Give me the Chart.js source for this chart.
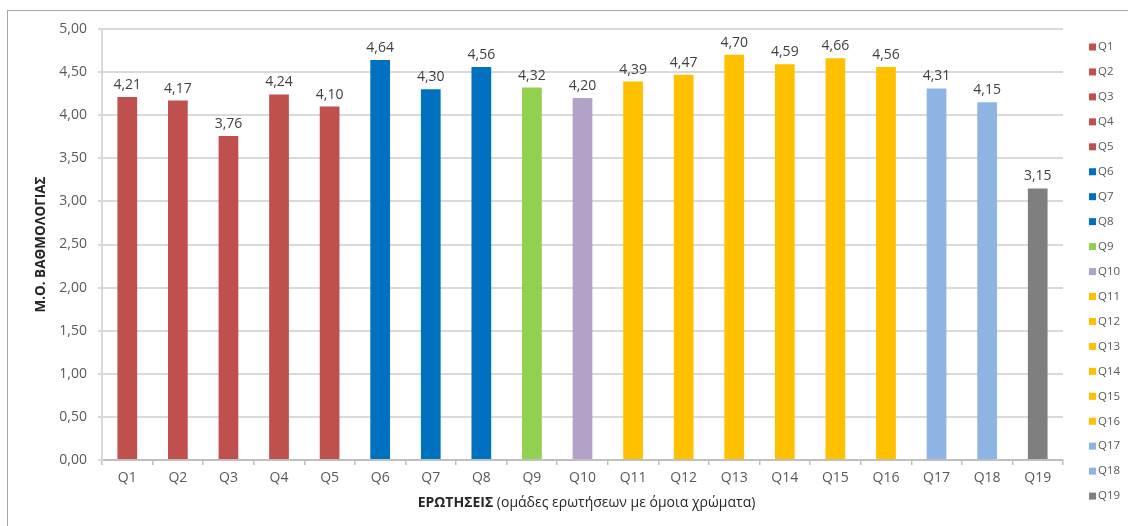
<!DOCTYPE html>
<html>
<head>
<meta charset="utf-8">
<script src="https://cdn.jsdelivr.net/npm/chart.js@4"></script>
<style>
  html, body { margin: 0; padding: 0; background: #fff; overflow: hidden; }
  #frame { position: absolute; left: 7px; top: 10px; width: 1200px; height: 600px; border: 1.5px solid #a6a6a6; }
  #wrap { position: absolute; left: 0; top: 0; width: 1128px; height: 526px; }
</style>
</head>
<body>
<div id="frame"></div>
<div id="wrap"><canvas id="chart"></canvas></div>
<script>
// τιμές διαβασμένες από το γράφημα
const questions = ['Q1','Q2','Q3','Q4','Q5','Q6','Q7','Q8','Q9','Q10','Q11','Q12','Q13','Q14','Q15','Q16','Q17','Q18','Q19'];
const scores = [4.21, 4.17, 3.76, 4.24, 4.10, 4.64, 4.30, 4.56, 4.32, 4.20, 4.39, 4.47, 4.70, 4.59, 4.66, 4.56, 4.31, 4.15, 3.15];
const barColors = [
  '#C0504D','#C0504D','#C0504D','#C0504D','#C0504D',
  '#0070C0','#0070C0','#0070C0',
  '#92D050',
  '#B3A2C7',
  '#FFC000','#FFC000','#FFC000','#FFC000','#FFC000','#FFC000',
  '#8DB4E2','#8DB4E2',
  '#7F7F7F'
];
const yTitle = 'Μ.Ο. ΒΑΘΜΟΛΟΓΙΑΣ';
const xTitleBold = 'ΕΡΩΤΗΣΕΙΣ';
const xTitleRest = ' (ομάδες ερωτήσεων με όμοια χρώματα)';

const FONT = "'Open Sans', sans-serif";
const fmt = v => v.toFixed(2).replace('.', ',');

// ετικέτες τιμών πάνω από τις μπάρες
const valueLabels = {
  id: 'valueLabels',
  afterDatasetsDraw(chart) {
    const ctx = chart.ctx;
    const meta = chart.getDatasetMeta(0);
    ctx.save();
    ctx.font = `14px ${FONT}`;
    ctx.fillStyle = '#404040';
    ctx.textAlign = 'center';
    ctx.textBaseline = 'bottom';
    meta.data.forEach((bar, i) => {
      ctx.fillText(fmt(scores[i]), bar.x, bar.y - 5);
    });
    ctx.restore();
  }
};

// τίτλος άξονα Χ με δύο γραμματοσειρές + υπόμνημα δεξιά
const extras = {
  id: 'extras',
  afterDraw(chart) {
    const ctx = chart.ctx;
    const area = chart.chartArea;
    ctx.save();
    ctx.textBaseline = 'middle';
    ctx.fillStyle = '#262626';
    ctx.font = `bold 14px ${FONT}`;
    const wB = ctx.measureText(xTitleBold).width;
    ctx.font = `14px ${FONT}`;
    const wR = ctx.measureText(xTitleRest).width;
    let x = (area.left + area.right) / 2 + 4 - (wB + wR) / 2;
    const y = 503;
    ctx.textAlign = 'left';
    ctx.font = `bold 14px ${FONT}`;
    ctx.fillText(xTitleBold, x, y);
    ctx.font = `14px ${FONT}`;
    ctx.fillText(xTitleRest, x + wB, y);

    // υπόμνημα
    ctx.font = `11.5px ${FONT}`;
    questions.forEach((q, i) => {
      const ly = 47 + i * 24.95;
      ctx.fillStyle = barColors[i];
      ctx.fillRect(1089, ly - 3.5, 7, 7);
      ctx.fillStyle = '#595959';
      ctx.fillText(q, 1098, ly);
    });
    ctx.restore();
  }
};

const ctx = document.getElementById('chart').getContext('2d');
new Chart(ctx, {
  type: 'bar',
  data: {
    labels: questions,
    datasets: [{
      data: scores,
      backgroundColor: barColors,
      borderWidth: 0,
      categoryPercentage: 1,
      barPercentage: 0.39
    }]
  },
  options: {
    responsive: true,
    maintainAspectRatio: false,
    animation: false,
    layout: { padding: { top: 29, right: 65, bottom: 0, left: 0 } },
    plugins: {
      legend: { display: false },
      tooltip: { enabled: false }
    },
    scales: {
      x: {
        afterFit: axis => { axis.height = 66; },
        grid: { offset: true, drawOnChartArea: false, tickLength: 5, color: '#bfbfbf', lineWidth: 1.5 },
        border: { color: '#bfbfbf', width: 2 },
        ticks: { color: '#595959', font: { family: FONT, size: 14 }, padding: 5, maxRotation: 0 }
      },
      y: {
        min: 0,
        max: 5,
        afterFit: axis => { axis.width = 102; },
        grid: { color: '#d9d9d9', lineWidth: 2, tickLength: 4 },
        border: { color: '#d9d9d9', width: 2 },
        ticks: {
          stepSize: 0.5,
          color: '#595959',
          font: { family: FONT, size: 14 },
          padding: 11,
          callback: v => fmt(v)
        },
        title: {
          display: true,
          text: yTitle,
          color: '#262626',
          font: { family: FONT, size: 13.5, weight: 'bold' },
          padding: { top: 33, bottom: 0 }
        }
      }
    }
  },
  plugins: [valueLabels, extras]
});
</script>
</body>
</html>
